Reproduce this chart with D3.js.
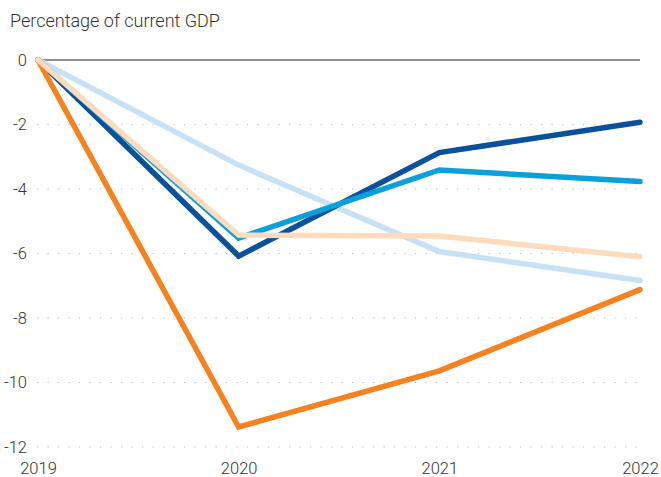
<!DOCTYPE html>
<html>
<head>
<meta charset="utf-8">
<script src="https://cdn.jsdelivr.net/npm/d3@7"></script>
<style>
  html, body { margin: 0; padding: 0; background: #fff; }
  svg text { font-family: Roboto, "Noto Sans", sans-serif; font-weight: 300; fill: #333; }
</style>
</head>
<body>
<svg id="chart" width="661" height="477"></svg>
<script>
// Fiscal balance change, percentage of current GDP
const years = ["2019", "2020", "2021", "2022"];
const yTicks = [0, -2, -4, -6, -8, -10, -12];

const paleBlue = [0, -3.26, -5.94, -6.84];
const darkBlue = [0, -6.08, -2.87, -1.93];
const lightBlue = [0, -5.52, -3.41, -3.77];
const orange = [0, -11.38, -9.64, -7.12];
const peach = [0, -5.43, -5.46, -6.1];

const seriesList = [
  { name: "pale", values: paleBlue, color: "#c7e1f5" },
  { name: "dark", values: darkBlue, color: "#0a519c" },
  { name: "light", values: lightBlue, color: "#0aa0dc" },
  { name: "orange", values: orange, color: "#f5821f" },
  { name: "peach", values: peach, color: "#fddbbc" }
];

const svg = d3.select("#chart");

const x = d3.scalePoint().domain(years).range([38, 640]);
const y = d3.scaleLinear().domain([0, -12]).range([60, 447]);

// title
svg.append("text")
  .attr("x", 10).attr("y", 27)
  .style("font-size", "18px")
  .text("Percentage of current GDP");

// dotted gridlines
svg.append("g").selectAll("line")
  .data(yTicks.filter(d => d !== 0))
  .join("line")
  .attr("x1", 37).attr("x2", 638)
  .attr("y1", d => y(d)).attr("y2", d => y(d))
  .attr("stroke", "#b8b8b8")
  .attr("stroke-width", 1.2)
  .attr("stroke-dasharray", "1.2,9.3");

// zero line
svg.append("line")
  .attr("x1", 40).attr("x2", 640)
  .attr("y1", y(0)).attr("y2", y(0))
  .attr("stroke", "#6e6866")
  .attr("stroke-width", 1.5);

// y axis labels
const yAxis = d3.axisLeft(y).tickValues(yTicks).tickSize(0).tickPadding(0)
  .tickFormat(d => d === 0 ? "0" : "-" + Math.abs(d));
const yg = svg.append("g").attr("transform", "translate(27,0)").call(yAxis);
yg.select(".domain").remove();
yg.selectAll("text").style("font-size", "16.5px").attr("fill", "#333").attr("font-family", null);

// x axis labels
const xAxis = d3.axisBottom(x).tickSize(0).tickPadding(0);
const xg = svg.append("g").attr("transform", "translate(0,462)").call(xAxis);
xg.select(".domain").remove();
xg.selectAll("text").style("font-size", "16.5px").attr("fill", "#333").attr("font-family", null)
  .attr("dy", "0.71em");

// series lines
const line = d3.line()
  .x((d, i) => x(years[i]))
  .y(d => y(d));

svg.append("g").selectAll("path")
  .data(seriesList)
  .join("path")
  .attr("d", d => line(d.values))
  .attr("fill", "none")
  .attr("stroke", d => d.color)
  .attr("stroke-width", 5.5)
  .attr("stroke-linecap", "round")
  .attr("stroke-linejoin", "miter");
</script>
</body>
</html>
